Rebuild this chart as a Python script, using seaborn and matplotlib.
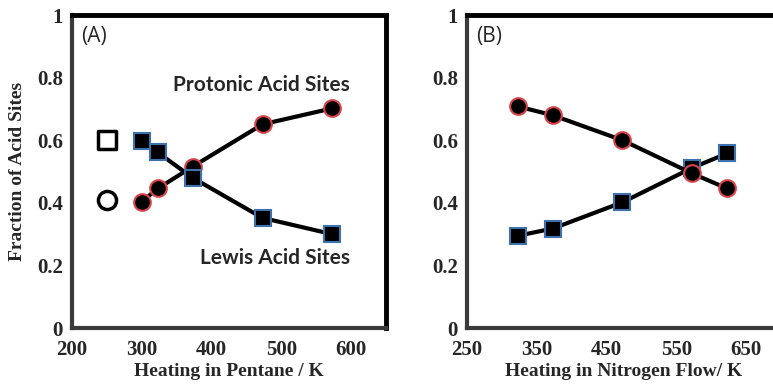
import numpy as np
import pandas as pd
import seaborn as sns
import matplotlib.pyplot as plt

# panel A: heating in pentane
temp_a = [300, 323, 373, 473, 573]
lewis_a = [0.597, 0.561, 0.480, 0.352, 0.300]
protonic_a = [0.404, 0.446, 0.516, 0.651, 0.702]
fresh_temp = [250]
fresh_lewis = [0.600]
fresh_protonic = [0.408]

# panel B: heating in nitrogen flow
temp_b = [323, 373, 473, 573, 623]
lewis_b = [0.295, 0.318, 0.402, 0.512, 0.558]
protonic_b = [0.708, 0.680, 0.600, 0.494, 0.446]

xticks_a = [200, 300, 400, 500, 600]
xticks_b = [250, 350, 450, 550, 650]
yticks = [0, 0.2, 0.4, 0.6, 0.8, 1]
ylabels = ["0", "0.2", "0.4", "0.6", "0.8", "1"]

sns.set_style("white")
plt.rcParams["font.family"] = ["Liberation Serif", "DejaVu Serif"]

fig = plt.figure(figsize=(7.73, 3.86), dpi=100)
ax_a = fig.add_axes([0.0931, 0.150, 0.4063, 0.811])
ax_b = fig.add_axes([0.6041, 0.150, 0.4060, 0.811])

red = "#d9434a"
blue = "#3d72b0"


def draw_series(ax, x, y, marker, edge, ms):
    sns.lineplot(x=x, y=y, ax=ax, color="black", linewidth=3, marker=marker,
                 markersize=ms, markerfacecolor="black", markeredgecolor=edge,
                 markeredgewidth=1.5, zorder=3)


def style_axes(ax, xlim, xticks):
    ax.set_xlim(*xlim)
    ax.set_ylim(0, 1)
    ax.set_xticks(xticks)
    ax.set_xticks(np.arange(xlim[0], xlim[1] + 1, 50), minor=True)
    ax.set_yticks(yticks)
    ax.set_yticklabels(ylabels)
    ax.set_yticks(np.arange(0, 1.01, 0.1), minor=True)
    ax.tick_params(which="major", direction="inout", length=7, width=1.5,
                   color="#888888", labelsize=15, pad=3)
    ax.tick_params(axis="x", which="major", pad=5)
    ax.tick_params(which="minor", direction="in", length=4, width=1.3,
                   color="#888888")
    for lab in ax.get_xticklabels() + ax.get_yticklabels():
        lab.set_fontweight("bold")
    for side in ["left", "bottom"]:
        ax.spines[side].set_linewidth(3)
        ax.spines[side].set_color("#3a3a3a")
    for side in ["top", "right"]:
        ax.spines[side].set_linewidth(3.5)
        ax.spines[side].set_color("black")
    ax.spines["top"].set_visible(True)
    ax.spines["right"].set_visible(True)


# panel A
draw_series(ax_a, temp_a, protonic_a, "o", red, 12)
draw_series(ax_a, temp_a, lewis_a, "s", blue, 11.5)
sns.scatterplot(x=fresh_temp, y=fresh_lewis, ax=ax_a, marker="s", s=150,
                facecolor="white", edgecolor="black", linewidth=2.5)
sns.scatterplot(x=fresh_temp, y=fresh_protonic, ax=ax_a, marker="o", s=170,
                facecolor="white", edgecolor="black", linewidth=2.5)
style_axes(ax_a, (200, 650), xticks_a)
ax_a.set_xlabel("Heating in Pentane / K", fontsize=14, fontweight="bold", labelpad=2)
ax_a.set_ylabel("Fraction of Acid Sites", fontsize=14, fontweight="bold", labelpad=8)
ax_a.text(0.03, 0.93, "(A)", transform=ax_a.transAxes, fontsize=15,
          family=["Open Sans", "DejaVu Sans"], va="center", ha="left")
ax_a.text(598, 0.776, "Protonic Acid Sites", fontsize=15, fontweight="bold",
          family=["Lato", "DejaVu Sans"], ha="right", va="center")
ax_a.text(598, 0.224, "Lewis Acid Sites", fontsize=15, fontweight="bold",
          family=["Lato", "DejaVu Sans"], ha="right", va="center")

# panel B
draw_series(ax_b, temp_b, lewis_b, "s", blue, 11.5)
draw_series(ax_b, temp_b, protonic_b, "o", red, 12)
style_axes(ax_b, (250, 700), xticks_b)
ax_b.set_xlabel("Heating in Nitrogen Flow/ K", fontsize=14, fontweight="bold", labelpad=2)
ax_b.text(0.03, 0.93, "(B)", transform=ax_b.transAxes, fontsize=15,
          family=["Open Sans", "DejaVu Sans"], va="center", ha="left")

plt.savefig("out.png", dpi=100)
